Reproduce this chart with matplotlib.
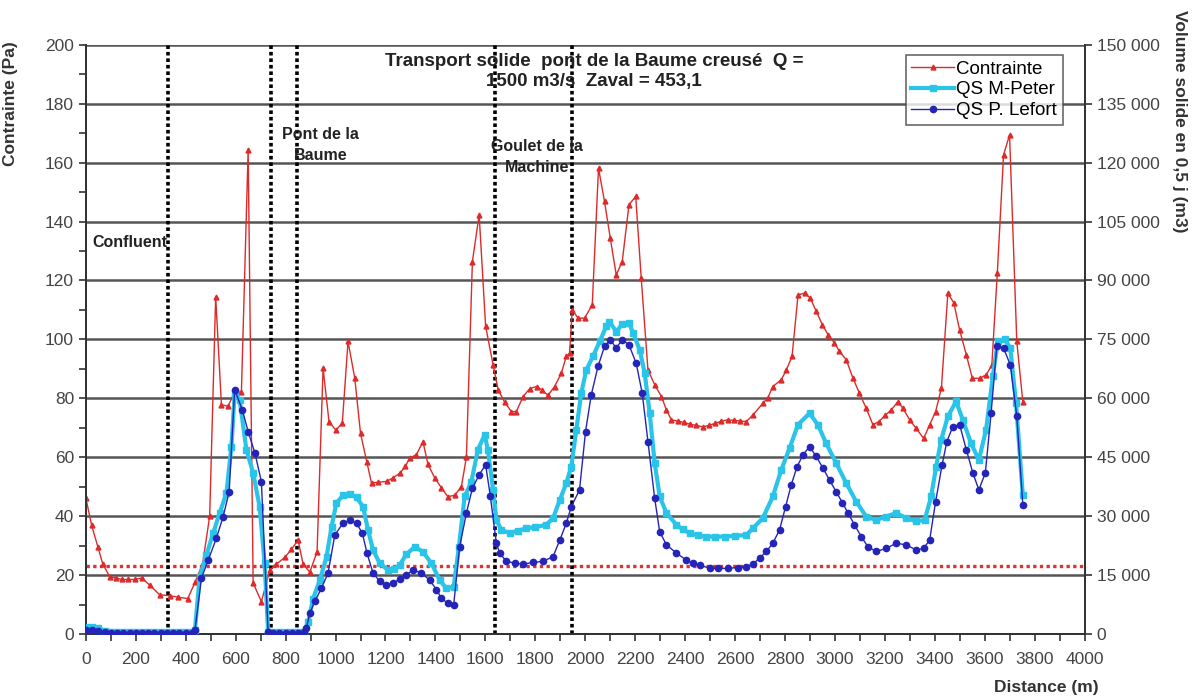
import matplotlib

matplotlib.use("Agg")

import matplotlib.pyplot as plt
from matplotlib.ticker import FuncFormatter, MultipleLocator

plt.rcParams["font.family"] = ["Liberation Sans", "DejaVu Sans"]

# Contrainte (Pa) along the reach
dist_c = [0, 23, 48, 68, 96, 120, 145, 170, 195, 223, 256, 296, 336, 370, 408, 437, 468, 496,
          520, 543, 570, 596, 623, 650, 670, 703, 737, 763, 797, 823, 850, 870, 897, 926, 950,
          974, 1001, 1027, 1050, 1077, 1100, 1125, 1144, 1170, 1205, 1230, 1258, 1280, 1297,
          1324, 1350, 1370, 1397, 1424, 1450, 1477, 1504, 1524, 1548, 1575, 1601, 1631, 1651,
          1677, 1704, 1724, 1751, 1778, 1805, 1825, 1851, 1877, 1904, 1924, 1937, 1948, 1971,
          1997, 2028, 2053, 2077, 2100, 2124, 2148, 2175, 2202, 2224, 2251, 2278, 2305, 2325,
          2345, 2370, 2395, 2420, 2445, 2471, 2495, 2520, 2545, 2570, 2595, 2620, 2645, 2671,
          2711, 2730, 2751, 2785, 2805, 2828, 2852, 2878, 2901, 2925, 2949, 2972, 2998, 3018,
          3045, 3072, 3098, 3125, 3152, 3176, 3202, 3225, 3252, 3272, 3299, 3325, 3355, 3379,
          3403, 3426, 3452, 3476, 3499, 3526, 3550, 3579, 3606, 3628, 3650, 3675, 3699, 3728,
          3752]
contrainte = [46.2, 37, 29.6, 23.7, 19.4, 19, 18.5, 18.5, 18.5, 19, 16.6, 13.3, 13, 12.5, 12,
              17.5, 24, 40, 114.5, 77.8, 77.3, 82.3, 82, 164.3, 17.3, 11, 21.7, 23.7, 26, 28.7,
              31.9, 23.7, 21, 27.9, 90.2, 72, 69.2, 71.5, 99.3, 86.8, 68.1, 58.5, 51.2, 51.5,
              51.8, 53, 54.6, 57, 59.7, 60.9, 65.3, 57.6, 53, 49.6, 46.6, 47.1, 50, 60, 126.4,
              142.3, 104.4, 91.3, 82.9, 78.7, 75.5, 75.5, 80.6, 83.3, 84, 82.9, 81, 84, 88.5,
              94.2, 95.3, 110, 107.2, 107.2, 111.7, 158.1, 146.8, 134.4, 121.9, 126.4, 145.7,
              148.5, 120.8, 89.6, 84.6, 80.6, 76, 72.7, 72.3, 71.8, 71.2, 70.8, 70.3, 70.8,
              71.5, 72.2, 72.7, 72.5, 72.3, 72.1, 74.3, 78.3, 80, 84, 86.3, 89.6, 94.2, 115.1,
              115.7, 114, 109.5, 105, 101.6, 98.8, 95.9, 93.1, 86.8, 81.7, 76.6, 71, 72.1,
              74.3, 76, 78.9, 76.6, 72.7, 69.8, 66.4, 71, 75.5, 83.4, 115.7, 112.3, 103.2,
              94.7, 86.8, 86.8, 88, 91.3, 122.5, 162.6, 169.4, 99.3, 78.9]

# QS M-Peter, volume (m3) in 0.5 day
dist_mp = [0, 25, 50, 75, 100, 125, 150, 175, 200, 225, 250, 275, 300, 325, 350, 375, 400, 425,
           437, 456, 483, 510, 536, 563, 583, 596, 616, 643, 670, 696, 716, 730, 750, 775, 800,
           825, 850, 875, 890, 910, 937, 964, 984, 1003, 1030, 1057, 1084, 1110, 1130, 1150,
           1177, 1210, 1235, 1257, 1284, 1317, 1350, 1384, 1417, 1444, 1473, 1494, 1517, 1544,
           1570, 1597, 1610, 1631, 1644, 1664, 1697, 1730, 1764, 1800, 1844, 1871, 1898, 1924,
           1944, 1964, 1984, 2004, 2031, 2058, 2084, 2097, 2124, 2148, 2175, 2191, 2218, 2238,
           2258, 2278, 2298, 2325, 2365, 2390, 2418, 2450, 2485, 2520, 2560, 2600, 2645, 2671,
           2711, 2751, 2785, 2818, 2852, 2898, 2932, 2965, 3005, 3045, 3085, 3125, 3165, 3205,
           3245, 3285, 3325, 3359, 3385, 3405, 3425, 3452, 3485, 3512, 3545, 3576, 3605, 3632,
           3652, 3679, 3702, 3725, 3752]
qs_mpeter = [1900, 1900, 1650, 750, 450, 400, 400, 400, 400, 400, 400, 400, 400, 400, 400, 400,
             400, 600, 1100, 14600, 20100, 25700, 30800, 35900, 47700, 61300, 59600, 46900,
             41000, 32400, 18000, 600, 400, 400, 400, 400, 400, 600, 3000, 9000, 13700, 19700,
             27300, 33300, 35300, 35600, 34800, 32400, 26500, 21400, 18000, 16300, 16500, 17600,
             20300, 22200, 20900, 18000, 13700, 11600, 12000, 22200, 35000, 38800, 46900, 50700,
             46900, 36700, 29000, 26500, 25700, 26300, 26900, 27200, 27800, 29500, 34100, 38400,
             42600, 52000, 61300, 67200, 70700, 74500, 78300, 79500, 77000, 78800, 79200, 76700,
             72300, 66400, 56200, 43500, 35000, 30800, 27800, 26600, 25700, 25100, 24800, 24800,
             24800, 25000, 25200, 26900, 29500, 35000, 41800, 47300, 53300, 56200, 53200, 48500,
             43500, 38400, 33700, 29900, 29000, 29900, 30800, 29500, 28700, 29000, 35000, 42600,
             49400, 55400, 59200, 54500, 48500, 44300, 52000, 65600, 74500, 75000, 72800, 58700,
             35400]

# QS P. Lefort, volume (m3) in 0.5 day
dist_pl = [0, 25, 50, 75, 100, 125, 150, 175, 200, 225, 250, 275, 300, 325, 350, 375, 400, 425,
           437, 463, 490, 523, 550, 574, 596, 627, 650, 677, 703, 730, 750, 775, 800, 825, 850,
           875, 883, 897, 917, 943, 970, 997, 1030, 1057, 1084, 1107, 1126, 1150, 1177, 1204,
           1230, 1257, 1284, 1310, 1344, 1377, 1404, 1424, 1450, 1473, 1497, 1524, 1548, 1575,
           1601, 1620, 1644, 1657, 1684, 1720, 1751, 1790, 1831, 1871, 1898, 1924, 1944, 1977,
           2001, 2024, 2051, 2077, 2100, 2124, 2148, 2175, 2204, 2228, 2251, 2278, 2298, 2325,
           2365, 2405, 2430, 2458, 2498, 2530, 2570, 2610, 2645, 2671, 2698, 2725, 2751, 2778,
           2802, 2825, 2848, 2872, 2898, 2925, 2952, 2978, 3005, 3030, 3052, 3078, 3105, 3132,
           3165, 3205, 3245, 3285, 3325, 3355, 3379, 3403, 3429, 3448, 3472, 3499, 3526, 3552,
           3576, 3602, 3625, 3648, 3675, 3702, 3728, 3752]
qs_lefort = [1000, 1000, 750, 450, 300, 300, 300, 300, 300, 300, 300, 300, 300, 300, 300, 300,
             300, 300, 1000, 14200, 18800, 24400, 29900, 36200, 62200, 57000, 51500, 46100,
             38800, 400, 300, 300, 300, 300, 300, 400, 1500, 5300, 8300, 11600, 15500, 25200,
             28200, 29000, 28200, 25700, 20600, 15500, 13400, 12500, 13000, 13900, 15000, 16300,
             15500, 13700, 11300, 9100, 7800, 7400, 22200, 30800, 37100, 40500, 43100, 35000,
             23100, 20600, 18500, 18000, 17800, 18200, 18500, 19700, 23900, 28200, 32400, 36700,
             51500, 60900, 68100, 73200, 74900, 72800, 74900, 73600, 68900, 61300, 49000, 34500,
             26000, 22700, 20600, 18800, 18000, 17600, 16700, 16700, 16700, 16900, 17100, 17800,
             19300, 21000, 23100, 26500, 32400, 38000, 42600, 45600, 47700, 45200, 42200, 39200,
             36200, 33400, 30800, 27800, 24800, 22200, 21000, 21800, 23100, 22700, 21400, 21800,
             23900, 33700, 43100, 49000, 52800, 53300, 46900, 41000, 36700, 41000, 56200, 73200,
             72800, 68500, 55400, 32900]

# Reference sections and critical stress
section_x = [328, 740, 845, 1640, 1945]
critical_stress = 23


def space_thousands(v, _pos):
    return f"{int(round(v)):,}".replace(",", " ")


fig = plt.figure(figsize=(11.92, 6.99), dpi=100)
ax = fig.add_axes([0.072, 0.093, 0.838, 0.843])
ax2 = ax.twinx()

grid_col = "#555555"
ax.set_xlim(0, 4000)
ax.set_ylim(0, 200)
ax2.set_ylim(0, 150000)
ax.yaxis.set_major_locator(MultipleLocator(20))
ax.yaxis.set_minor_locator(MultipleLocator(10))
ax.xaxis.set_major_locator(MultipleLocator(200))
ax.xaxis.set_minor_locator(MultipleLocator(100))
ax2.yaxis.set_major_locator(MultipleLocator(15000))
ax2.yaxis.set_major_formatter(FuncFormatter(space_thousands))
ax.grid(axis="y", which="major", color=grid_col, linewidth=1.8)
ax.set_axisbelow(True)

for a in (ax, ax2):
    a.spines["top"].set_visible(False)
    for s in ("left", "right", "bottom"):
        a.spines[s].set_color("#333333")
        a.spines[s].set_linewidth(1.4)
    a.tick_params(which="both", colors="#333333", labelcolor="#444444", labelsize=12.5,
                  length=5, width=1.2)

ax.tick_params(axis="x", pad=8)

# critical stress line and section markers
ax.axhline(critical_stress, color="#e03030", linestyle=(0, (1, 1)), linewidth=2.4, zorder=2)
for xs in section_x:
    ax.plot([xs, xs], [0, 200], color="black", linestyle=(0, (1, 0.8)), linewidth=2.6,
            zorder=3)

l1, = ax.plot(dist_c, contrainte, color="#dd2a2a", linewidth=1.0, marker="^", markersize=3.5,
              label="Contrainte", zorder=4)
l2, = ax2.plot(dist_mp, qs_mpeter, color="#29c4e8", linewidth=3.0, marker="s", markersize=4,
               label="QS M-Peter", zorder=4)
l3, = ax2.plot(dist_pl, qs_lefort, color="#2424b8", linewidth=1.0, marker="o", markersize=4.5,
               label="QS P. Lefort", zorder=5)

ax.text(28, 133, "Confluent", fontsize=11.5, fontweight="bold", color="#222222",
        ha="left", va="center")
ax.text(940, 166, "Pont de la\nBaume", fontsize=11.5, fontweight="bold", color="#222222",
        ha="center", va="center", linespacing=1.5)
ax.text(1806, 162, "Goulet de la\nMachine", fontsize=11.5, fontweight="bold", color="#222222",
        ha="center", va="center", linespacing=1.5)
ax.text(2034, 191, "Transport solide  pont de la Baume creusé  Q =\n1500 m3/s  Zaval = 453,1",
        fontsize=13.5, fontweight="bold", color="#222222", ha="center", va="center",
        linespacing=1.25)

ax.set_ylabel("Contrainte (Pa)", fontsize=12.5, fontweight="bold", color="#333333")
ax.yaxis.set_label_coords(-0.068, 0.9)
ax2.set_ylabel("Volume solide en 0,5 j (m3)", fontsize=12.5, fontweight="bold", color="#333333",
               rotation=-90, va="center")
ax2.yaxis.set_label_coords(1.095, 0.87)
ax.set_xlabel("Distance (m)", fontsize=12.5, fontweight="bold", color="#333333")
ax.xaxis.set_label_coords(0.962, -0.078)

leg = ax2.legend(handles=[l1, l2, l3], loc="upper right", bbox_to_anchor=(0.978, 0.983),
                 fontsize=13.5, frameon=True, fancybox=False, handlelength=2.3,
                 handletextpad=0.1, borderpad=0.3, labelspacing=0.2, borderaxespad=0)
leg.get_frame().set_edgecolor("#444444")
leg.get_frame().set_linewidth(1.2)

fig.savefig("out.png", dpi=100)
